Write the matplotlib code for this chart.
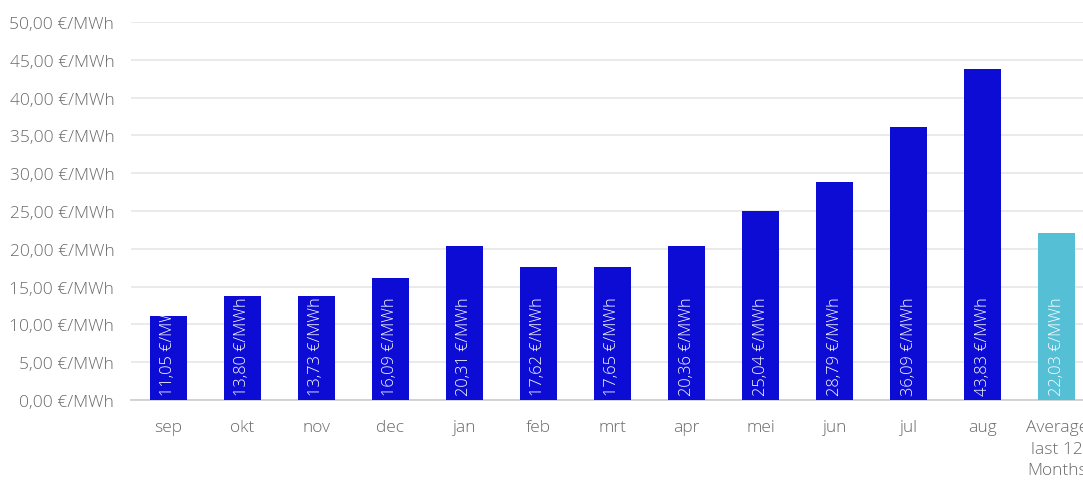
import matplotlib.pyplot as plt

months = ['sep', 'okt', 'nov', 'dec', 'jan', 'feb', 'mrt', 'apr', 'mei', 'jun', 'jul', 'aug',
          'Average\nlast 12\nMonths']
prices = [11.05, 13.80, 13.73, 16.09, 20.31, 17.62, 17.65, 20.36, 25.04, 28.79, 36.09, 43.83, 22.03]
yticks = [0, 5, 10, 15, 20, 25, 30, 35, 40, 45, 50]

def fmt(v):
    return f'{v:.2f}'.replace('.', ',') + ' €/MWh'

plt.rcParams['font.family'] = ['Open Sans', 'DejaVu Sans']

fig = plt.figure(figsize=(10.83, 4.81), dpi=100)
ax = fig.add_axes([131 / 1083, 80 / 481, 963 / 1083, 378 / 481])

colors = ['#0c0cd4'] * 12 + ['#55bfd6']
x = range(len(months))
bars = ax.bar(x, prices, width=0.5, color=colors, zorder=3)

# value labels sit at the bottom of each bar, cut off where the bar ends
for b, v in zip(bars, prices):
    t = ax.text(b.get_x() + b.get_width() / 2, 0.7, fmt(v), rotation=90,
                ha='center', va='bottom', color='white', fontsize=11.8,
                fontweight='light', zorder=4)
    t.set_clip_path(b)

ax.set_xlim(-0.5, len(months) - 0.5)
ax.set_ylim(0, 50)
ax.set_yticks(yticks)
ax.set_yticklabels([fmt(v) for v in yticks])
ax.set_xticks(list(x))
ax.set_xticklabels(months, linespacing=1.45)
ax.tick_params(axis='both', length=0, colors='#6a6a6a', labelsize=12.5)
ax.tick_params(axis='y', pad=12)
ax.tick_params(axis='x', pad=14)
for lab in ax.get_xticklabels() + ax.get_yticklabels():
    lab.set_fontweight('light')

ax.grid(axis='y', color='#e8e8e8', linewidth=1.3, zorder=0)
for s in ['top', 'right', 'left']:
    ax.spines[s].set_visible(False)
ax.spines['bottom'].set_color('#d0d0d0')
ax.spines['bottom'].set_linewidth(1.3)

fig.savefig('out.png', dpi=100)
